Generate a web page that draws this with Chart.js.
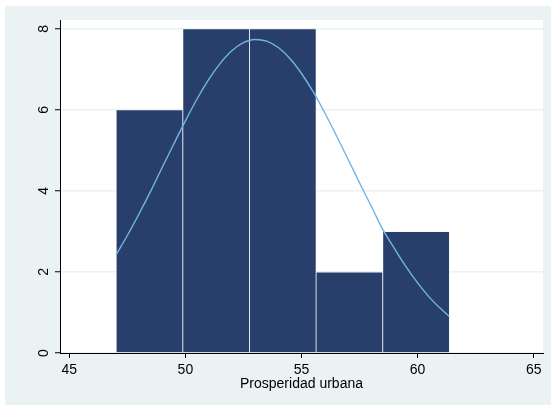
<!DOCTYPE html>
<html>
<head>
<meta charset="utf-8">
<script src="https://cdn.jsdelivr.net/npm/chart.js@4/dist/chart.umd.min.js"></script>
<style>
  html, body { margin: 0; padding: 0; background: #ffffff; }
  #wrap { width: 551px; height: 405px; }
</style>
</head>
<body>
<div id="wrap"><canvas id="c" width="551" height="405"></canvas></div>
<script>
// Histogram bins (lower and upper edge) and frequencies
const binLow  = [47.02, 49.89, 52.76, 55.63, 58.50];
const binHigh = [49.89, 52.76, 55.63, 58.50, 61.37];
const counts  = [6, 8, 8, 2, 3];

// Normal density overlay, scaled to frequency
const curveX = [47.02, 47.5, 48, 48.5, 49, 49.5, 50, 50.5, 51, 51.5, 52, 52.5, 53, 53.5,
                54, 54.5, 55, 55.5, 56, 56.5, 57, 57.5, 58, 58.5, 59, 59.5, 60, 60.5, 61, 61.37];
const curveY = [2.43, 2.90, 3.43, 3.99, 4.58, 5.16, 5.73, 6.27, 6.75, 7.15, 7.46, 7.66, 7.74, 7.70,
                7.54, 7.27, 6.90, 6.45, 5.93, 5.37, 4.79, 4.20, 3.63, 3.05, 2.58, 2.13, 1.73, 1.38, 1.09, 0.90];

// Axis ticks
const xTicks = [45, 50, 55, 60, 65];
const yTicks = [0, 2, 4, 6, 8];
const xTitle = 'Prosperidad urbana';

const BG = '#EAF2F3';

const backdrop = {
  id: 'backdrop',
  beforeDraw(chart) {
    const { ctx, chartArea: a, width, height } = chart;
    ctx.save();
    ctx.fillStyle = '#ffffff';
    ctx.fillRect(0, 0, width, height);
    ctx.fillStyle = BG;
    ctx.fillRect(5, 6, width - 5, height - 6);
    ctx.fillStyle = '#ffffff';
    ctx.fillRect(a.left, a.top, a.right - a.left, a.bottom - a.top);
    ctx.restore();
  }
};

Chart.defaults.font.family = "'Liberation Sans', Arial, sans-serif";
Chart.defaults.font.size = 14;
Chart.defaults.color = '#000000';

const barData = counts.map((c, i) => ({ x: (binLow[i] + binHigh[i]) / 2, y: c }));
const lineData = curveX.map((x, i) => ({ x: x, y: curveY[i] }));

new Chart(document.getElementById('c'), {
  data: {
    datasets: [
      {
        type: 'line',
        data: lineData,
        borderColor: '#72b4e6',
        borderWidth: 1.4,
        pointRadius: 0,
        cubicInterpolationMode: 'monotone',
        fill: false,
        order: 0
      },
      {
        type: 'bar',
        data: barData,
        backgroundColor: '#283f6c',
        borderColor: 'rgba(240,244,248,0.95)',
        borderWidth: 0.75,
        borderSkipped: 'bottom',
        barPercentage: 1,
        categoryPercentage: 1,
        order: 1
      }
    ]
  },
  options: {
    responsive: false,
    animation: false,
    devicePixelRatio: 1,
    layout: { padding: { top: 20, right: 8, left: 0, bottom: 0 } },
    plugins: { legend: { display: false }, tooltip: { enabled: false } },
    scales: {
      x: {
        type: 'linear',
        min: 44.6,
        max: 65.4,
        offset: false,
        afterBuildTicks: s => { s.ticks = xTicks.map(v => ({ value: v })); },
        afterFit: s => { s.height = 52; },
        ticks: { padding: 3.5, maxRotation: 0, autoSkip: false, color: '#000' },
        grid: { offset: false, drawOnChartArea: false, tickLength: 5, tickColor: '#000', tickWidth: 1 },
        border: { color: '#000', width: 1 },
        title: { display: true, text: xTitle, color: '#000', padding: { top: 0, bottom: 12.8 } }
      },
      y: {
        min: 0,
        max: 8.22,
        afterBuildTicks: s => { s.ticks = yTicks.map(v => ({ value: v })); },
        afterFit: s => { s.width = 60; },
        ticks: { minRotation: 90, maxRotation: 90, crossAlign: 'center', padding: 6.6, color: '#000' },
        grid: { color: BG, lineWidth: 1.5, tickLength: 5, tickColor: '#000', tickWidth: 1 },
        border: { color: '#000', width: 1 }
      }
    }
  },
  plugins: [backdrop]
});
</script>
</body>
</html>
